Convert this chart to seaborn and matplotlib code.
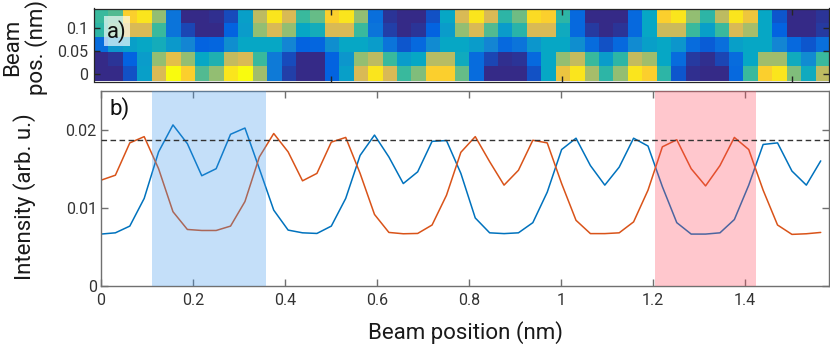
import numpy as np
import pandas as pd
import matplotlib
matplotlib.use("Agg")
import matplotlib.pyplot as plt
import seaborn as sns
from matplotlib.colors import LinearSegmentedColormap

# ---------------- data ----------------
beam_pos_nm = [0, 0.0313, 0.0626, 0.0939, 0.1252, 0.1565, 0.1878, 0.2191, 0.2504, 0.2817,
               0.313, 0.3443, 0.3756, 0.4069, 0.4382, 0.4695, 0.5008, 0.5321, 0.5634, 0.5947,
               0.626, 0.6573, 0.6886, 0.7199, 0.7512, 0.7825, 0.8138, 0.8451, 0.8764, 0.9077,
               0.939, 0.9703, 1.0016, 1.0329, 1.0642, 1.0955, 1.1268, 1.1581, 1.1894, 1.2207,
               1.252, 1.2833, 1.3146, 1.3459, 1.3772, 1.4085, 1.4398, 1.4711, 1.5024, 1.5337,
               1.565]
row_pos_nm = [0, 0.0313, 0.0626, 0.0939, 0.1252]

# heat-map rows (bottom row first), colour level 0..8
heat_row0 = [0, 0, 0.7, 2.8, 6, 8, 7, 4.3, 5, 7.5, 8, 5.2, 1.7,
             0.4, 0, 0, 1, 2.8, 6, 7.5, 6, 4, 4.8, 7, 7, 4.5,
             1.3, 0, 0, 0, 0.7, 3, 6.5, 7.5, 5.3, 3.8, 5, 7.5, 7,
             3.8, 0.8, 0.1, 0, 0, 1.2, 4, 7, 7.5, 4.8, 3.2, 5.6]
heat_row1 = [0, 0.2, 1, 2.7, 5, 6.3, 5, 3, 3.5, 5.7, 6, 4, 1.7,
             0.6, 0, 0, 1, 2.5, 5, 5.6, 4, 2.7, 3, 5.5, 5.5, 3.2,
             1.3, 0.5, 0.1, 0.2, 1.2, 3, 5, 5.7, 4, 2.7, 3.8, 5.7, 5.2,
             3, 1.3, 0.3, 0.1, 0.5, 1.3, 3, 5.2, 5.2, 3.2, 2.2, 4]
heat_row2 = [1.3, 2.5, 2.8, 3, 3.3, 2.6, 2, 1, 1.1, 2.3, 3, 3, 3,
             2, 1, 1.1, 2.3, 3, 3, 2.7, 1.5, 0.8, 1.2, 2.2, 3, 3,
             2.7, 2, 1.2, 1.5, 2.5, 3, 3, 2.3, 1.3, 0.7, 1.2, 2.2, 2.8,
             3, 2.5, 1.3, 0.9, 1.4, 2.8, 3, 3, 2, 1.2, 0.8, 1.4]
heat_row3 = [3.8, 4.5, 6, 6, 4, 1.5, 0.5, 0, 0, 1, 2.7, 5, 6,
             5, 3, 3.3, 6, 6, 4, 1.5, 0.4, 0, 0.2, 1, 2.7, 5,
             6, 4.3, 2.7, 3.7, 6, 6, 3.2, 1.2, 0.3, 0, 0.2, 1.2, 3,
             5.8, 5.8, 4, 2.8, 4, 6, 5.3, 3, 1, 0, 0, 0.3]
heat_row4 = [4, 4.3, 7, 7.5, 5, 1.5, 0, 0, 0.1, 0.6, 2.8, 5.6, 7.5,
             6, 4, 4.5, 7, 7.5, 5, 1.4, 0.2, 0, 0, 0.7, 3, 6,
             7.5, 6, 3.8, 4.6, 7.3, 7, 3.8, 1.2, 0, 0, 0, 1.2, 3,
             7, 7.5, 5, 3.8, 5.6, 7.5, 6.6, 3, 0.8, 0, 0, 0.2]

intensity_blue = [0.00664, 0.0068, 0.00766, 0.0112, 0.01715, 0.0206, 0.0182, 0.0141, 0.0150, 0.0194,
                  0.0202, 0.0150, 0.0097, 0.00715, 0.0068, 0.00672, 0.00766, 0.0112, 0.0167, 0.0193,
                  0.0165, 0.0131, 0.0146, 0.0185, 0.0186, 0.0144, 0.0087, 0.0068, 0.0067, 0.0068,
                  0.0081, 0.0120, 0.01745, 0.0189, 0.0154, 0.0129, 0.0152, 0.0189, 0.0179, 0.0127,
                  0.0081, 0.00664, 0.00664, 0.0068, 0.0085, 0.0129, 0.0181, 0.0183, 0.0147, 0.0129,
                  0.0160]
intensity_orange = [0.01353, 0.01417, 0.0183, 0.0191, 0.0150, 0.0095, 0.00723, 0.0071, 0.0071, 0.00766,
                    0.0108, 0.0165, 0.0195, 0.01715, 0.01345, 0.0144, 0.0184, 0.0190, 0.0144, 0.00915,
                    0.00685, 0.00668, 0.00672, 0.0078, 0.0116, 0.0171, 0.0191, 0.0159, 0.0129, 0.0148,
                    0.01864, 0.0183, 0.0131, 0.0084, 0.0067, 0.0067, 0.0068, 0.0082, 0.01225, 0.0178,
                    0.0187, 0.0150, 0.0128, 0.0154, 0.0190, 0.01745, 0.01225, 0.0078, 0.0066, 0.00668,
                    0.00685]
threshold = 0.0187
span_blue = [0.110, 0.359]
span_red = [1.205, 1.425]

x_ticks = [0, 0.2, 0.4, 0.6, 0.8, 1.0, 1.2, 1.4]
x_ticklabels = ["0", "0.2", "0.4", "0.6", "0.8", "1", "1.2", "1.4"]
y_ticks = [0, 0.01, 0.02]
y_ticklabels = ["0", "0.01", "0.02"]
h_yticks = [0, 0.05, 0.1]
h_yticklabels = ["0", "0.05", "0.1"]
h_xticks = [0.5, 1.0, 1.5]

# ---------------- style ----------------
sns.set_style("white")
plt.rcParams["font.family"] = ["Roboto", "DejaVu Sans"]

parula = LinearSegmentedColormap.from_list(
    "parula_like",
    ["#352a87", "#0363e1", "#1485d4", "#06a7c6", "#38b99e",
     "#92bf73", "#d9ba56", "#fcce2e", "#f9fb0e"])

W, H = 830, 346
fig = plt.figure(figsize=(W / 100, H / 100), dpi=100)
ax_h = fig.add_axes([94 / W, 1 - 81.5 / H, 735 / W, 73 / H])
ax_l = fig.add_axes([101 / W, 1 - 286 / H, 728 / W, 195.5 / H])

# ---------------- heat map ----------------
heat = np.array([heat_row0, heat_row1, heat_row2, heat_row3, heat_row4])
dx = beam_pos_nm[1] - beam_pos_nm[0]
dy = row_pos_nm[1] - row_pos_nm[0]
extent = [beam_pos_nm[0] - dx / 2, beam_pos_nm[-1] + dx / 2,
          row_pos_nm[0] - dy / 2, row_pos_nm[-1] + dy / 2]
ax_h.imshow(heat, origin="lower", extent=extent, aspect="auto", cmap=parula,
            vmin=0, vmax=8, interpolation="nearest")
ax_h.set_xlim(extent[0], extent[1])
ax_h.set_ylim(extent[2], extent[3])
ax_h.set_xticks(h_xticks)
ax_h.set_xticklabels([])
ax_h.set_yticks(h_yticks)
ax_h.set_yticklabels(h_yticklabels)
ax_h.tick_params(direction="in", top=True, right=True, bottom=True, left=True,
                 length=4, width=1.0, color="#262626", labelcolor="#333333",
                 labelsize=11.5, pad=4)
for s in ax_h.spines.values():
    s.set_color("#262626")
    s.set_linewidth(0.9)
ax_h.text(0.031, 0.69, "a)", transform=ax_h.transAxes, fontsize=16, color="#111111",
          ha="center", va="center",
          bbox=dict(boxstyle="square,pad=0.15", facecolor="white", alpha=0.65, lw=0))

# ---------------- line plot ----------------
df = pd.DataFrame({
    "pos": beam_pos_nm * 2,
    "intensity": intensity_blue + intensity_orange,
    "signal": ["blue"] * len(beam_pos_nm) + ["orange"] * len(beam_pos_nm),
})
sns.lineplot(data=df, x="pos", y="intensity", hue="signal",
             palette={"blue": "#0072BD", "orange": "#D95319"},
             legend=False, ax=ax_l, linewidth=1.1, zorder=2)
ax_l.axvspan(span_blue[0], span_blue[1], color=(0.243, 0.594, 0.934), alpha=0.3, lw=0, zorder=3)
ax_l.axvspan(span_red[0], span_red[1], color=(1.0, 0.28, 0.36), alpha=0.3, lw=0, zorder=3)
ax_l.axhline(threshold, color="#333333", ls=(0, (4, 2.5)), lw=1.0, zorder=4)

ax_l.set_xlim(0, 1.583)
ax_l.set_ylim(0, 0.025)
ax_l.set_xticks(x_ticks)
ax_l.set_xticklabels(x_ticklabels)
ax_l.set_yticks(y_ticks)
ax_l.set_yticklabels(y_ticklabels)
ax_l.tick_params(direction="in", top=True, right=True, bottom=True, left=True,
                 length=5, width=1.0, color="#707070", labelcolor="#333333",
                 labelsize=11.5)
ax_l.tick_params(axis="x", pad=5)
ax_l.tick_params(axis="y", pad=3)
for s in ax_l.spines.values():
    s.set_color("#707070")
    s.set_linewidth(1.0)
ax_l.set_xlabel("")
ax_l.set_ylabel("")
ax_l.text(0.025, 0.91, "b)", transform=ax_l.transAxes, fontsize=16, color="#111111",
          ha="center", va="center")

fig.text(465 / W, 1 - 333 / H, "Beam position (nm)", fontsize=16, color="#1a1a1a",
         ha="center", va="center")
fig.text(25 / W, 1 - 197 / H, "Intensity (arb. u.)", fontsize=16, color="#1a1a1a",
         ha="center", va="center", rotation=90)
fig.text(25 / W, 1 - 47 / H, "Beam\npos. (nm)", fontsize=16, color="#1a1a1a",
         ha="center", va="center", rotation=90, multialignment="center", linespacing=1.15)

fig.savefig("out.png", dpi=100)
